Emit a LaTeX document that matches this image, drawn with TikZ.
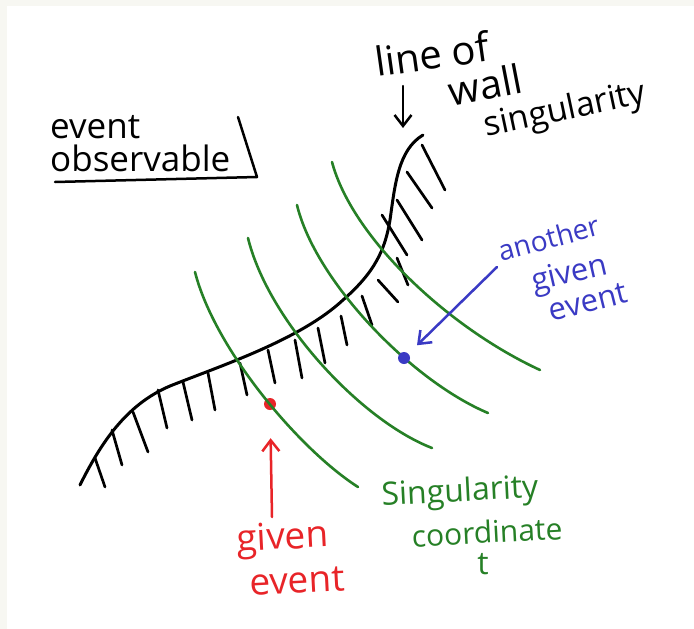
\documentclass[tikz,border=0pt]{standalone}
\usepackage{fontspec}
\newfontfamily\handfont{Open Sans}
\usetikzlibrary{arrows.meta}
\definecolor{pengreen}{RGB}{38,128,38}
\definecolor{penblue}{RGB}{58,58,196}
\definecolor{penred}{RGB}{232,36,40}
\definecolor{paper}{RGB}{247,247,242}

\begin{document}
\begin{tikzpicture}[x=1pt,y=-1pt,>={Straight Barb[length=11pt,width=17pt]},
  hand/.style={font=\handfont\fontsize{#1}{#1}\selectfont,inner sep=0pt},
  wallline/.style={line width=3pt,line cap=round},
  hatch/.style={line width=2.7pt,line cap=round},
  tline/.style={pengreen,line width=2.6pt,line cap=round},
  pen/.style={line width=2.5pt,line cap=round,line join=round},
  evdot/.style={circle,fill=#1,inner sep=0pt,minimum size=12pt}]
\useasboundingbox (0,0) rectangle (694,629);
\fill[paper] (0,0) rectangle (694,629);
\fill[white] (7,6) rectangle (694,629);

% event observable corner
\node[hand=35,anchor=west] (ev) at (50,127) {event};
\node[hand=35,anchor=west] (obs) at (50,158) {observable};
\coordinate (obsTop) at (238,117);
\coordinate (obsCorner) at (257,177);
\coordinate (obsLeft) at (55,182);
\draw[pen] (obsTop) -- (obsCorner) -- (obsLeft);

% line of wall singularity
\node[hand=40,rotate=8] (lineof) at (432,54) {line of};
\node[hand=40,rotate=11] (wall) at (485,85) {wall};
\node[hand=34,rotate=12] (sing) at (565,111) {singularity};
\coordinate (tailW) at (403,86);
\coordinate (tipW) at (403,128);
\draw[pen,->] (tailW) -- (tipW);

% the wall and its hatching
\draw[wallline] (80,485) .. controls (100,445) and (125,405) .. (170,386)
  .. controls (220,366) and (300,340) .. (343,300)
  .. controls (375,272) and (385,250) .. (390,220)
  .. controls (395,185) and (398,150) .. (423,135);
\foreach \xa/\ya/\xb/\yb in {95/458/105/487, 112/430/122/465, 133/412/148/452,
  158/390/167/428, 183/382/192/420, 208/373/215/410, 240/363/247/395,
  268/350/275/383, 295/340/302/378, 318/328/325/363, 341/316/347/345,
  362/296/372/325, 378/280/398/302, 397/258/408/285, 382/215/407/255,
  397/200/422/240, 407/172/432/208, 422/145/445/190}
  \draw[hatch] (\xa,\ya) -- (\xb,\yb);

% given event (under the green line)
\node[evdot=penred] (evR) at (270,404) {};

% lines of constant t
\draw[tline] (195,272) .. controls (215,350) and (300,450) .. (358,487);
\draw[tline] (248,238) .. controls (268,320) and (360,420) .. (432,448);
\draw[tline] (297,205) .. controls (315,280) and (410,380) .. (488,413);
\draw[tline] (332,162) .. controls (352,237) and (447,327) .. (540,370);

% another given event
\node[evdot=penblue] (evB) at (404,358) {};
\node[hand=28,rotate=15,text=penblue] (anoth) at (549,238) {another};
\node[hand=31,rotate=13,text=penblue] (givenB) at (570,275) {given};
\node[hand=31,rotate=14,text=penblue] (eventB) at (588,302) {event};
\coordinate (tailB) at (497,267);
\draw[pen,penblue,->,shorten >=12pt] (tailB) -- (evB);

% given event label
\node[hand=37,rotate=3,text=penred] (givenR) at (283,540) {given};
\node[hand=37,rotate=3,text=penred] (eventR) at (297,581) {event};
\coordinate (tailR) at (272,517);
\draw[pen,penred,->,shorten >=28pt] (tailR) -- (evR);

% singularity coordinate t
\node[hand=32,rotate=3,text=pengreen] (singT) at (460,493) {Singularity};
\node[hand=30,rotate=3,text=pengreen] (coordT) at (487,532) {coordinate};
\node[hand=32,text=pengreen] (tT) at (483,564) {t};
\end{tikzpicture}
\end{document}
